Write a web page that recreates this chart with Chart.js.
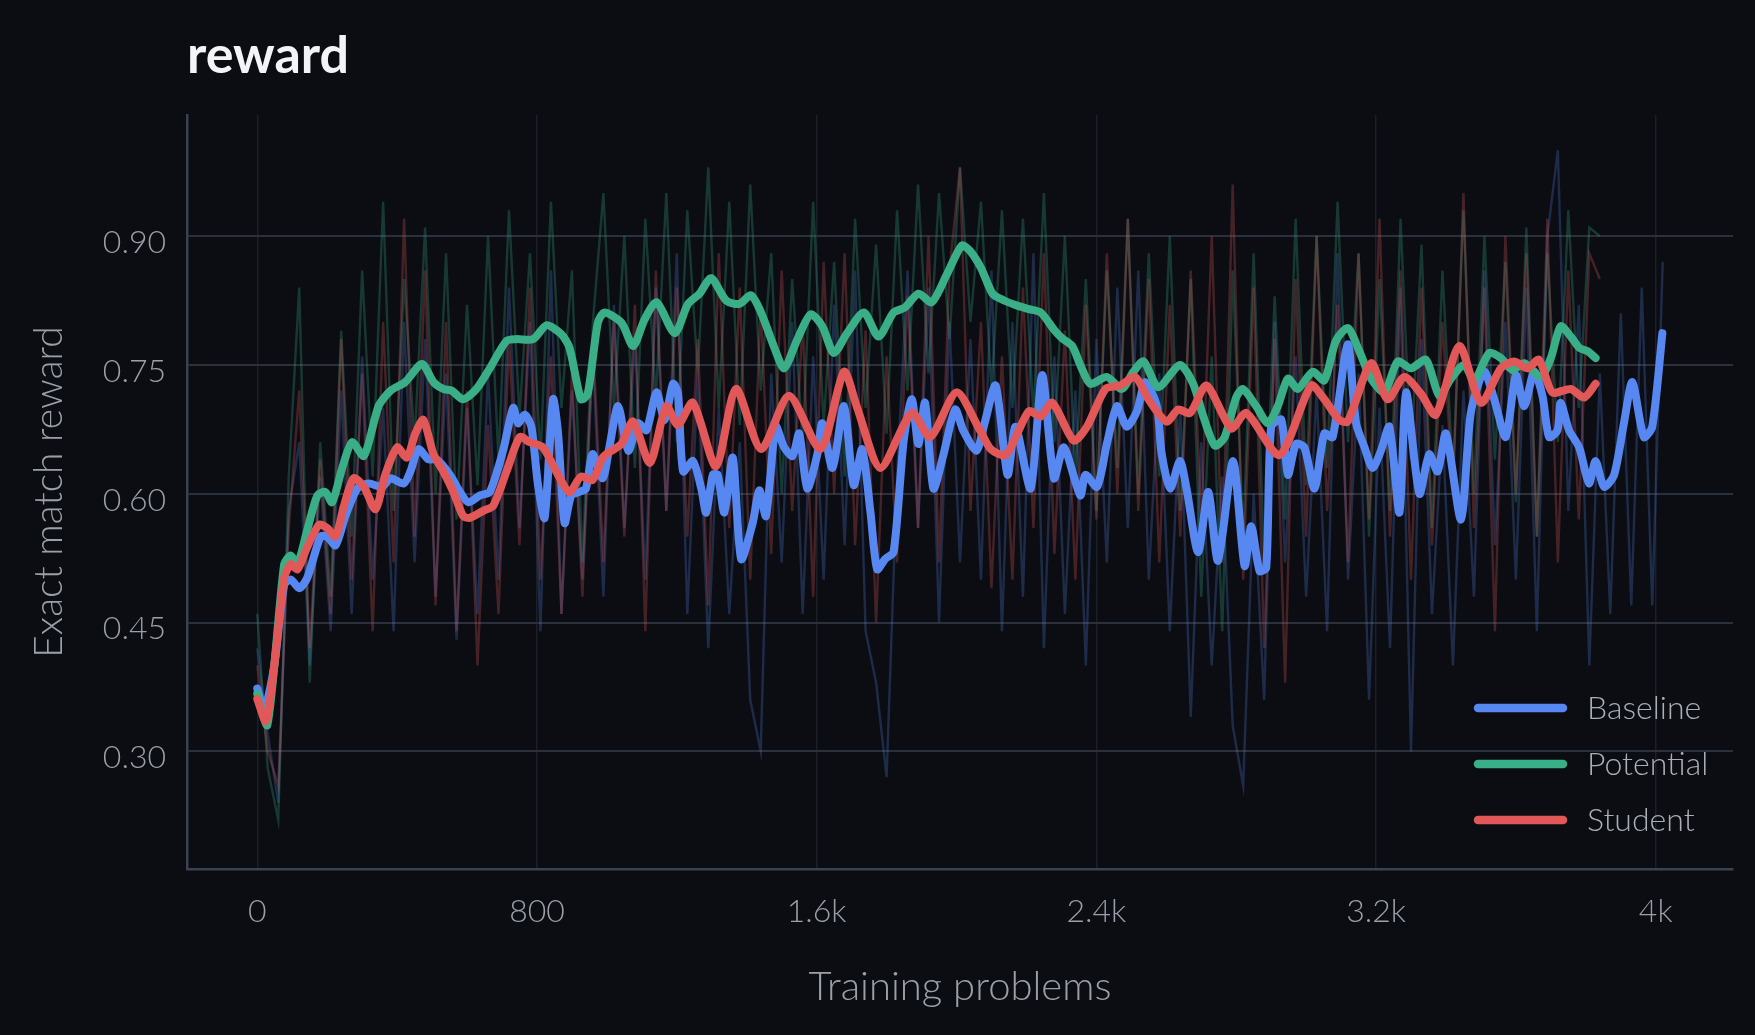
<!DOCTYPE html>
<html>
<head>
<meta charset="utf-8">
<title>reward</title>
<script src="https://cdn.jsdelivr.net/npm/chart.js@4.4.0/dist/chart.umd.min.js"></script>
<style>
  html, body { margin: 0; padding: 0; background: #0b0d12; }
  #wrap { width: 1755px; height: 1035px; }
</style>
</head>
<body>
<div id="wrap"><canvas id="rewardChart" width="1755" height="1035"></canvas></div>
<script>
// ---- data ----
var xTicks = [0, 800, 1600, 2400, 3200, 4000];
var xTickLabels = ['0', '800', '1.6k', '2.4k', '3.2k', '4k'];
var yTicks = [0.30, 0.45, 0.60, 0.75, 0.90];

var seriesNames = ['Baseline', 'Potential', 'Student'];

// smoothed curves (thick lines)
var baselineX = [0, 20, 48, 77, 96, 120, 143, 181, 200, 224, 252, 286, 319, 357, 381, 419, 438, 461, 489, 513,
  551, 580, 604, 637, 665, 703, 732, 746, 765, 784, 803, 822, 846, 860, 879, 898, 921, 940, 959, 988,
  1007, 1032, 1061, 1089, 1113, 1142, 1165, 1189, 1203, 1218, 1246, 1270, 1284, 1303, 1317, 1336, 1360, 1384, 1417, 1436,
  1455, 1483, 1507, 1531, 1550, 1573, 1602, 1616, 1645, 1678, 1706, 1730, 1754, 1773, 1796, 1820, 1849, 1872, 1891, 1910,
  1934, 1963, 1996, 2019, 2057, 2079, 2112, 2146, 2169, 2212, 2245, 2279, 2307, 2354, 2369, 2402, 2430, 2459, 2487, 2516,
  2540, 2573, 2587, 2611, 2639, 2658, 2691, 2720, 2748, 2791, 2824, 2843, 2867, 2886, 2900, 2929, 2948, 2971, 2995, 3024,
  3052, 3076, 3119, 3143, 3167, 3190, 3214, 3238, 3267, 3286, 3324, 3352, 3376, 3400, 3443, 3471, 3509, 3538, 3571, 3600,
  3624, 3652, 3676, 3695, 3719, 3728, 3752, 3781, 3809, 3828, 3852, 3881, 3909, 3933, 3966, 3990, 4019];
var baselineY = [0.373, 0.349, 0.398, 0.494, 0.500, 0.490, 0.502, 0.550, 0.550, 0.540, 0.574, 0.606, 0.612, 0.608, 0.618, 0.612, 0.626, 0.652, 0.640, 0.640,
  0.622, 0.602, 0.590, 0.598, 0.602, 0.650, 0.700, 0.682, 0.692, 0.678, 0.610, 0.572, 0.710, 0.672, 0.566, 0.598, 0.602, 0.606, 0.646, 0.618,
  0.654, 0.702, 0.650, 0.682, 0.674, 0.718, 0.686, 0.728, 0.718, 0.626, 0.638, 0.606, 0.578, 0.622, 0.622, 0.578, 0.642, 0.524, 0.566, 0.604,
  0.574, 0.678, 0.654, 0.644, 0.670, 0.606, 0.646, 0.682, 0.630, 0.702, 0.610, 0.652, 0.578, 0.512, 0.524, 0.532, 0.662, 0.710, 0.658, 0.706,
  0.606, 0.646, 0.698, 0.674, 0.650, 0.680, 0.726, 0.622, 0.678, 0.606, 0.738, 0.618, 0.654, 0.598, 0.622, 0.608, 0.658, 0.702, 0.678, 0.696,
  0.730, 0.702, 0.646, 0.606, 0.638, 0.606, 0.532, 0.602, 0.522, 0.638, 0.516, 0.562, 0.510, 0.514, 0.678, 0.686, 0.622, 0.658, 0.654, 0.606,
  0.670, 0.666, 0.774, 0.682, 0.654, 0.630, 0.650, 0.678, 0.578, 0.718, 0.600, 0.646, 0.626, 0.670, 0.570, 0.694, 0.742, 0.710, 0.666, 0.738,
  0.702, 0.742, 0.714, 0.666, 0.674, 0.706, 0.674, 0.654, 0.612, 0.638, 0.608, 0.622, 0.682, 0.730, 0.666, 0.678, 0.787];

var potentialX = [0, 29, 77, 96, 115, 143, 172, 195, 214, 243, 271, 305, 347, 381, 423, 471, 504, 532, 556, 589,
  627, 665, 713, 741, 789, 827, 869, 893, 926, 945, 974, 993, 1042, 1075, 1108, 1142, 1194, 1232, 1265, 1298,
  1341, 1379, 1412, 1441, 1479, 1507, 1545, 1583, 1616, 1649, 1687, 1735, 1777, 1820, 1853, 1891, 1929, 1972, 2015, 2038,
  2070, 2103, 2136, 2174, 2207, 2241, 2279, 2302, 2331, 2354, 2383, 2430, 2473, 2506, 2535, 2577, 2639, 2677, 2706, 2739,
  2767, 2800, 2819, 2857, 2891, 2919, 2948, 2976, 3019, 3052, 3085, 3119, 3148, 3186, 3224, 3262, 3300, 3343, 3381, 3414,
  3452, 3481, 3524, 3557, 3590, 3624, 3671, 3700, 3728, 3757, 3781, 3805, 3828];
var potentialY = [0.367, 0.331, 0.518, 0.528, 0.518, 0.558, 0.598, 0.602, 0.590, 0.630, 0.660, 0.644, 0.702, 0.720, 0.730, 0.751, 0.730, 0.722, 0.720, 0.710,
  0.722, 0.746, 0.778, 0.780, 0.780, 0.796, 0.786, 0.770, 0.710, 0.716, 0.799, 0.811, 0.799, 0.772, 0.803, 0.823, 0.787, 0.821, 0.833, 0.851,
  0.825, 0.821, 0.831, 0.811, 0.770, 0.746, 0.780, 0.809, 0.795, 0.764, 0.787, 0.811, 0.783, 0.811, 0.817, 0.833, 0.823, 0.855, 0.889, 0.883,
  0.863, 0.833, 0.825, 0.819, 0.815, 0.811, 0.791, 0.781, 0.772, 0.750, 0.728, 0.736, 0.722, 0.742, 0.754, 0.724, 0.750, 0.728, 0.690, 0.656,
  0.666, 0.712, 0.722, 0.702, 0.682, 0.702, 0.734, 0.722, 0.742, 0.732, 0.778, 0.793, 0.770, 0.734, 0.718, 0.754, 0.746, 0.756, 0.714, 0.734,
  0.750, 0.732, 0.764, 0.758, 0.744, 0.752, 0.736, 0.758, 0.795, 0.783, 0.770, 0.766, 0.758];

var studentX = [0, 25, 48, 77, 96, 115, 143, 177, 200, 224, 248, 276, 305, 338, 366, 400, 428, 452, 475, 504,
  532, 561, 589, 608, 646, 675, 713, 751, 779, 817, 855, 893, 926, 959, 988, 1013, 1042, 1075, 1123, 1170,
  1203, 1246, 1312, 1369, 1441, 1521, 1611, 1678, 1716, 1782, 1872, 1925, 2000, 2067, 2098, 2141, 2207, 2241, 2274, 2335,
  2373, 2426, 2468, 2511, 2549, 2601, 2634, 2668, 2715, 2786, 2829, 2924, 3014, 3052, 3095, 3119, 3186, 3233, 3281, 3329,
  3371, 3438, 3500, 3557, 3595, 3633, 3666, 3704, 3757, 3795, 3828];
var studentY = [0.361, 0.335, 0.398, 0.502, 0.518, 0.512, 0.538, 0.564, 0.560, 0.550, 0.586, 0.618, 0.608, 0.582, 0.622, 0.654, 0.642, 0.670, 0.686, 0.646,
  0.626, 0.602, 0.574, 0.572, 0.580, 0.586, 0.626, 0.666, 0.660, 0.654, 0.626, 0.602, 0.620, 0.616, 0.642, 0.650, 0.658, 0.684, 0.636, 0.702,
  0.680, 0.706, 0.632, 0.722, 0.652, 0.714, 0.652, 0.742, 0.700, 0.630, 0.694, 0.666, 0.718, 0.674, 0.652, 0.645, 0.696, 0.690, 0.706, 0.662,
  0.678, 0.722, 0.726, 0.736, 0.710, 0.684, 0.698, 0.694, 0.726, 0.676, 0.694, 0.645, 0.726, 0.710, 0.686, 0.684, 0.752, 0.710, 0.736, 0.716,
  0.692, 0.772, 0.706, 0.746, 0.754, 0.746, 0.756, 0.718, 0.722, 0.712, 0.728];

// raw per-step rewards (faint lines), one value every rawStep problems
var rawStep = 30;
var baselineRaw = [0.42, 0.32, 0.24, 0.58, 0.66, 0.40, 0.62, 0.44, 0.72, 0.46,
  0.76, 0.50, 0.70, 0.44, 0.80, 0.52, 0.78, 0.48, 0.74, 0.43,
  0.70, 0.46, 0.74, 0.50, 0.84, 0.56, 0.80, 0.44, 0.86, 0.46,
  0.72, 0.50, 0.76, 0.48, 0.82, 0.56, 0.78, 0.50, 0.84, 0.58,
  0.88, 0.46, 0.74, 0.42, 0.70, 0.46, 0.66, 0.36, 0.30, 0.74,
  0.52, 0.80, 0.46, 0.76, 0.50, 0.82, 0.54, 0.86, 0.44, 0.38,
  0.27, 0.62, 0.86, 0.56, 0.84, 0.45, 0.80, 0.52, 0.78, 0.50,
  0.86, 0.44, 0.80, 0.48, 0.88, 0.42, 0.76, 0.46, 0.72, 0.40,
  0.78, 0.52, 0.84, 0.56, 0.86, 0.50, 0.74, 0.44, 0.70, 0.34,
  0.66, 0.40, 0.62, 0.33, 0.26, 0.60, 0.36, 0.80, 0.52, 0.76,
  0.48, 0.72, 0.44, 0.88, 0.50, 0.74, 0.36, 0.70, 0.42, 0.84,
  0.30, 0.78, 0.46, 0.68, 0.40, 0.72, 0.48, 0.86, 0.54, 0.80,
  0.50, 0.84, 0.44, 0.90, 1.00, 0.58, 0.82, 0.40, 0.74, 0.46,
  0.81, 0.47, 0.84, 0.47, 0.87];
var potentialRaw = [0.46, 0.28, 0.22, 0.62, 0.84, 0.38, 0.66, 0.48, 0.79, 0.55,
  0.86, 0.62, 0.94, 0.58, 0.85, 0.66, 0.91, 0.60, 0.88, 0.57,
  0.82, 0.61, 0.90, 0.64, 0.93, 0.69, 0.88, 0.64, 0.94, 0.70,
  0.86, 0.52, 0.80, 0.95, 0.70, 0.90, 0.63, 0.92, 0.71, 0.95,
  0.66, 0.93, 0.74, 0.98, 0.70, 0.94, 0.68, 0.96, 0.72, 0.88,
  0.60, 0.85, 0.66, 0.94, 0.68, 0.87, 0.62, 0.92, 0.70, 0.89,
  0.67, 0.93, 0.72, 0.96, 0.74, 0.95, 0.78, 0.98, 0.80, 0.94,
  0.72, 0.93, 0.70, 0.92, 0.69, 0.95, 0.66, 0.90, 0.62, 0.85,
  0.58, 0.86, 0.63, 0.92, 0.60, 0.88, 0.62, 0.90, 0.58, 0.85,
  0.48, 0.76, 0.44, 0.86, 0.55, 0.88, 0.52, 0.83, 0.57, 0.92,
  0.61, 0.90, 0.63, 0.94, 0.66, 0.88, 0.55, 0.85, 0.58, 0.92,
  0.64, 0.89, 0.56, 0.86, 0.62, 0.93, 0.60, 0.90, 0.64, 0.87,
  0.59, 0.91, 0.55, 0.88, 0.66, 0.93, 0.70, 0.91, 0.90];
var studentRaw = [0.40, 0.30, 0.26, 0.56, 0.72, 0.42, 0.64, 0.46, 0.78, 0.50,
  0.74, 0.44, 0.80, 0.52, 0.92, 0.55, 0.86, 0.47, 0.80, 0.44,
  0.72, 0.40, 0.68, 0.46, 0.78, 0.54, 0.84, 0.50, 0.76, 0.46,
  0.74, 0.48, 0.78, 0.52, 0.80, 0.55, 0.82, 0.44, 0.86, 0.58,
  0.84, 0.55, 0.78, 0.47, 0.88, 0.56, 0.84, 0.50, 0.82, 0.53,
  0.86, 0.58, 0.80, 0.48, 0.87, 0.60, 0.88, 0.54, 0.79, 0.45,
  0.76, 0.52, 0.83, 0.56, 0.90, 0.52, 0.86, 0.98, 0.58, 0.80,
  0.49, 0.76, 0.50, 0.84, 0.56, 0.88, 0.53, 0.79, 0.50, 0.82,
  0.57, 0.88, 0.60, 0.92, 0.58, 0.85, 0.52, 0.82, 0.55, 0.86,
  0.57, 0.90, 0.52, 0.96, 0.50, 0.84, 0.42, 0.78, 0.38, 0.85,
  0.55, 0.90, 0.58, 0.82, 0.52, 0.88, 0.57, 0.92, 0.55, 0.86,
  0.50, 0.84, 0.54, 0.80, 0.60, 0.95, 0.56, 0.84, 0.44, 0.90,
  0.60, 0.88, 0.55, 0.92, 0.52, 0.86, 0.57, 0.88, 0.85];

// ---- styling ----
var BLUE = '#5787f0';
var GREEN = '#3aae87';
var RED = '#e25858';
var FONT = 'Lato, "Open Sans", sans-serif';
var TICK_COLOR = '#9aa0aa';

function toPoints(xs, ys) {
  return xs.map(function (x, i) { return { x: x, y: ys[i] }; });
}
function rawPoints(ys) {
  return ys.map(function (y, i) { return { x: i * rawStep, y: y }; });
}

function thick(label, xs, ys, color, order) {
  return {
    label: label, data: toPoints(xs, ys), borderColor: color, borderWidth: 8,
    tension: 0.25, order: order, pointRadius: 0, fill: false,
    borderJoinStyle: 'round', borderCapStyle: 'round'
  };
}
function faint(label, ys, color, order) {
  return {
    label: label, data: rawPoints(ys), borderColor: color, borderWidth: 2.4,
    tension: 0, order: order, pointRadius: 0, fill: false
  };
}

// legend drawn bottom-right inside the plot
var legendPlugin = {
  id: 'cornerLegend',
  afterDraw: function (chart) {
    var ctx = chart.ctx;
    var area = chart.chartArea;
    var colors = [BLUE, GREEN, RED];
    var lx = area.right - 259;
    var ly = area.bottom - 161;
    ctx.save();
    ctx.font = '300 32px ' + FONT;
    ctx.textBaseline = 'middle';
    ctx.textAlign = 'left';
    for (var i = 0; i < seriesNames.length; i++) {
      var y = ly + i * 56;
      ctx.strokeStyle = colors[i];
      ctx.lineWidth = 8.5;
      ctx.lineCap = 'round';
      ctx.beginPath();
      ctx.moveTo(lx + 4, y);
      ctx.lineTo(lx + 89, y);
      ctx.stroke();
      ctx.fillStyle = '#aab0ba';
      ctx.fillText(seriesNames[i], lx + 113, y + 1);
    }
    ctx.restore();
  }
};

var ctx = document.getElementById('rewardChart').getContext('2d');
var chart = new Chart(ctx, {
  type: 'line',
  data: {
    datasets: [
      thick('Student', studentX, studentY, RED, 0),
      thick('Potential', potentialX, potentialY, GREEN, 1),
      thick('Baseline', baselineX, baselineY, BLUE, 2),
      faint('Student raw', studentRaw, 'rgba(226,88,88,0.28)', 3),
      faint('Potential raw', potentialRaw, 'rgba(58,174,135,0.28)', 4),
      faint('Baseline raw', baselineRaw, 'rgba(87,135,240,0.25)', 5)
    ]
  },
  options: {
    responsive: false,
    animation: false,
    events: [],
    layout: { padding: { top: 0, left: 0, right: 22, bottom: 0 } },
    plugins: {
      legend: { display: false },
      tooltip: { enabled: false },
      title: {
        display: true,
        text: 'reward',
        align: 'start',
        fullSize: false,
        color: '#f2f4f7',
        font: { family: FONT, size: 52, weight: 'bold' },
        padding: { top: 25, bottom: 27.6 }
      }
    },
    scales: {
      x: {
        type: 'linear',
        min: -201,
        max: 4221,
        afterFit: function (scale) { scale.height = 166; },
        afterBuildTicks: function (scale) {
          scale.ticks = xTicks.map(function (v) { return { value: v }; });
        },
        ticks: {
          padding: 23,
          color: TICK_COLOR,
          font: { family: FONT, size: 32, weight: '300' },
          maxRotation: 0,
          callback: function (value) {
            var i = xTicks.indexOf(value);
            return i >= 0 ? xTickLabels[i] : '';
          }
        },
        grid: { color: '#1a1f29', lineWidth: 1.5, drawTicks: false },
        border: { color: '#3a4150', width: 2.5 },
        title: {
          display: true,
          text: 'Training problems',
          color: TICK_COLOR,
          font: { family: FONT, size: 40, weight: '300' },
          padding: { top: 0, bottom: 24 }
        }
      },
      y: {
        min: 0.163,
        max: 1.041,
        afterFit: function (scale) { scale.width = 187; },
        afterBuildTicks: function (scale) {
          scale.ticks = yTicks.map(function (v) { return { value: v }; });
        },
        ticks: {
          padding: 21,
          labelOffset: 6.5,
          color: TICK_COLOR,
          font: { family: FONT, size: 32, weight: '300' },
          callback: function (value) { return value.toFixed(2); }
        },
        grid: { color: '#2a303c', lineWidth: 2, drawTicks: false },
        border: { color: '#3a4150', width: 2.5 },
        title: {
          display: true,
          text: 'Exact match reward',
          color: TICK_COLOR,
          font: { family: FONT, size: 39, weight: '300' },
          padding: { top: 26, bottom: 0 }
        }
      }
    }
  },
  plugins: [legendPlugin]
});
</script>
</body>
</html>
